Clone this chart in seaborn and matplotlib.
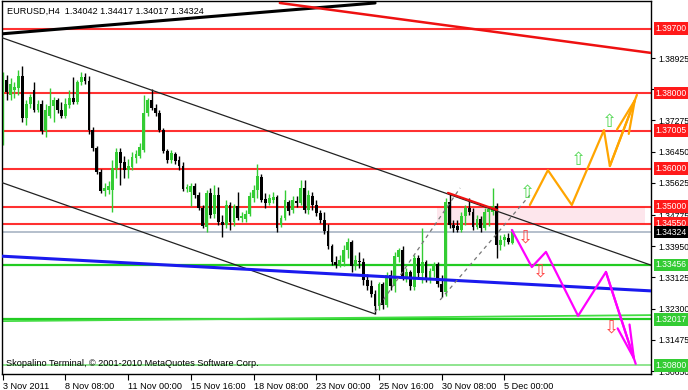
import matplotlib
matplotlib.use("Agg")
import matplotlib.pyplot as plt
import matplotlib.transforms as mtransforms
import numpy as np
import pandas as pd
import seaborn as sns

# ---------------- data (EURUSD H4) ----------------
opens = [1.3676, 1.3834, 1.3795, 1.3808, 1.3813, 1.3845, 1.3734, 1.3771, 1.3808, 1.3755,
         1.3771, 1.3700, 1.3739, 1.3766, 1.3782, 1.3755, 1.3739, 1.3768, 1.3787, 1.3776,
         1.3829, 1.3842, 1.3832, 1.3702, 1.3655, 1.3591, 1.3541, 1.3544, 1.3544, 1.3602,
         1.3644, 1.3618, 1.3596, 1.3604, 1.3628, 1.3633, 1.3649, 1.3747, 1.3782, 1.3760,
         1.3747, 1.3702, 1.3647, 1.3623, 1.3639, 1.3623, 1.3607, 1.3546, 1.3538, 1.3554,
         1.3530, 1.3496, 1.3446, 1.3536, 1.3480, 1.3530, 1.3459, 1.3451, 1.3504, 1.3459,
         1.3501, 1.3470, 1.3467, 1.3480, 1.3523, 1.3544, 1.3578, 1.3520, 1.3509, 1.3517,
         1.3525, 1.3451, 1.3470, 1.3512, 1.3491, 1.3515, 1.3509, 1.3549, 1.3491, 1.3528,
         1.3504, 1.3483, 1.3464, 1.3435, 1.3396, 1.3353, 1.3348, 1.3353, 1.3385, 1.3406,
         1.3343, 1.3356, 1.3353, 1.3306, 1.3290, 1.3269, 1.3237, 1.3295, 1.3240, 1.3319,
         1.3290, 1.3367, 1.3385, 1.3314, 1.3327, 1.3287, 1.3364, 1.3324, 1.3353, 1.3308,
         1.3330, 1.3348, 1.3295, 1.3274, 1.3512, 1.3451, 1.3448, 1.3438, 1.3475, 1.3496,
         1.3485, 1.3446, 1.3467, 1.3443, 1.3485, 1.3485, 1.3501, 1.3398, 1.3411, 1.3417,
         1.34042]
highs = [1.3855, 1.3848, 1.3840, 1.3829, 1.3861, 1.3871, 1.3782, 1.3797, 1.3829, 1.3782,
         1.3782, 1.3771, 1.3813, 1.3789, 1.3787, 1.3776, 1.3787, 1.3808, 1.3842, 1.3834,
         1.3855, 1.3853, 1.3845, 1.3710, 1.3660, 1.3599, 1.3562, 1.3567, 1.3623, 1.3655,
         1.3655, 1.3633, 1.3626, 1.3644, 1.3649, 1.3668, 1.3795, 1.3787, 1.3811, 1.3771,
         1.3755, 1.3707, 1.3652, 1.3649, 1.3644, 1.3633, 1.3618, 1.3560, 1.3562, 1.3562,
         1.3538, 1.3504, 1.3544, 1.3549, 1.3557, 1.3552, 1.3478, 1.3517, 1.3512, 1.3507,
         1.3538, 1.3485, 1.3491, 1.3538, 1.3557, 1.3612, 1.3586, 1.3536, 1.3533, 1.3538,
         1.3530, 1.3478, 1.3544, 1.3517, 1.3528, 1.3528, 1.3570, 1.3570, 1.3544, 1.3538,
         1.3517, 1.3491, 1.3485, 1.3454, 1.3401, 1.3369, 1.3372, 1.3398, 1.3417, 1.3411,
         1.3372, 1.3380, 1.3364, 1.3322, 1.3306, 1.3279, 1.3300, 1.3300, 1.3327, 1.3332,
         1.3380, 1.3391, 1.3396, 1.3337, 1.3332, 1.3372, 1.3372, 1.3443, 1.3359, 1.3337,
         1.3353, 1.3353, 1.3319, 1.3523, 1.3536, 1.3464, 1.3464, 1.3485, 1.3504, 1.3523,
         1.3496, 1.3478, 1.3475, 1.3496, 1.3501, 1.3549, 1.3509, 1.3425, 1.3427, 1.3430,
         1.34417]
lows = [1.3663, 1.3782, 1.3782, 1.3787, 1.3795, 1.3723, 1.3715, 1.3760, 1.3750, 1.3750,
        1.3692, 1.3684, 1.3734, 1.3723, 1.3747, 1.3734, 1.3734, 1.3760, 1.3771, 1.3771,
        1.3821, 1.3824, 1.3692, 1.3647, 1.3586, 1.3536, 1.3528, 1.3533, 1.3485, 1.3575,
        1.3557, 1.3575, 1.3575, 1.3596, 1.3615, 1.3628, 1.3644, 1.3739, 1.3755, 1.3739,
        1.3697, 1.3641, 1.3615, 1.3615, 1.3612, 1.3596, 1.3541, 1.3538, 1.3501, 1.3523,
        1.3491, 1.3443, 1.3432, 1.3470, 1.3470, 1.3451, 1.3419, 1.3443, 1.3438, 1.3448,
        1.3464, 1.3459, 1.3459, 1.3475, 1.3512, 1.3523, 1.3512, 1.3496, 1.3504, 1.3509,
        1.3432, 1.3446, 1.3464, 1.3478, 1.3483, 1.3499, 1.3504, 1.3483, 1.3480, 1.3491,
        1.3475, 1.3456, 1.3427, 1.3388, 1.3345, 1.3337, 1.3340, 1.3343, 1.3364, 1.3327,
        1.3332, 1.3337, 1.3292, 1.3279, 1.3261, 1.3216, 1.3226, 1.3229, 1.3235, 1.3279,
        1.3274, 1.3353, 1.3306, 1.3300, 1.3279, 1.3279, 1.3314, 1.3298, 1.3300, 1.3298,
        1.3314, 1.3287, 1.3261, 1.3263, 1.3443, 1.3432, 1.3432, 1.3432, 1.3451, 1.3478,
        1.3438, 1.3440, 1.3432, 1.3438, 1.3448, 1.3478, 1.3364, 1.3385, 1.3396, 1.3401,
        1.34017]
closes = [1.3834, 1.3803, 1.3824, 1.3816, 1.3845, 1.3734, 1.3771, 1.3789, 1.3755, 1.3771,
          1.3700, 1.3755, 1.3766, 1.3782, 1.3755, 1.3739, 1.3771, 1.3787, 1.3776, 1.3829,
          1.3842, 1.3832, 1.3702, 1.3655, 1.3591, 1.3541, 1.3549, 1.3554, 1.3602, 1.3644,
          1.3615, 1.3596, 1.3607, 1.3631, 1.3639, 1.3658, 1.3747, 1.3782, 1.3760, 1.3747,
          1.3702, 1.3647, 1.3623, 1.3641, 1.3620, 1.3607, 1.3546, 1.3552, 1.3554, 1.3530,
          1.3496, 1.3448, 1.3536, 1.3478, 1.3530, 1.3459, 1.3451, 1.3504, 1.3459, 1.3501,
          1.3470, 1.3475, 1.3480, 1.3528, 1.3544, 1.3581, 1.3517, 1.3509, 1.3523, 1.3525,
          1.3443, 1.3470, 1.3517, 1.3488, 1.3517, 1.3509, 1.3549, 1.3491, 1.3530, 1.3504,
          1.3483, 1.3464, 1.3435, 1.3396, 1.3353, 1.3345, 1.3359, 1.3385, 1.3406, 1.3343,
          1.3359, 1.3353, 1.3306, 1.3290, 1.3269, 1.3237, 1.3295, 1.3240, 1.3319, 1.3290,
          1.3369, 1.3385, 1.3314, 1.3327, 1.3290, 1.3364, 1.3324, 1.3353, 1.3308, 1.3330,
          1.3348, 1.3295, 1.3274, 1.3512, 1.3451, 1.3443, 1.3438, 1.3475, 1.3496, 1.3485,
          1.3446, 1.3467, 1.3443, 1.3485, 1.3493, 1.3501, 1.3398, 1.3411, 1.3419, 1.3406,
          1.34324]

x_tick_bars = [0, 16, 32, 48, 64, 80, 96, 112, 128]
x_tick_labels = ["3 Nov 2011", "8 Nov 08:00", "11 Nov 00:00", "15 Nov 16:00",
                 "18 Nov 08:00", "23 Nov 00:00", "25 Nov 16:00", "30 Nov 08:00",
                 "5 Dec 00:00"]
y_tick_values = [1.38925, 1.38100, 1.37275, 1.36450, 1.35625, 1.34775,
                 1.33950, 1.33125, 1.32300, 1.31475, 1.30650]

red_levels = [1.39700, 1.38000, 1.37005, 1.36000, 1.35000, 1.34550]
green_levels = [1.33456, 1.32017, 1.30800]
bid_price = 1.34324
title_text = "EURUSD,H4  1.34042 1.34417 1.34017 1.34324"
footer_text = "Skopalino Terminal, \u00a9 2001-2010 MetaQuotes Software Corp."

# trend lines: (bar position, price)
top_thick_x, top_thick_y = [-0.7, 95.0], [1.3956, 1.4038]
red_slope_x, red_slope_y = [70.7, 165.4], [1.4038, 1.3906]
chan_up_x, chan_up_y = [-0.7, 165.4], [1.3948, 1.3345]
chan_lo_x, chan_lo_y = [-0.7, 95.0], [1.3565, 1.3216]
blue_x, blue_y = [-0.7, 165.4], [1.3369, 1.3277]
green_slope_x, green_slope_y = [-0.7, 165.4], [1.3197, 1.3213]
red_seg_x, red_seg_y = [113.6, 126.1], [1.3536, 1.3491]
dash_a_x, dash_a_y = [95.0, 116.7], [1.3221, 1.3549]
dash_b_x, dash_b_y = [111.6, 134.5], [1.3253, 1.3530]
band_x, band_y = [110.8, 163.9], [1.34550, 1.35000]

orange_x = [134.5, 139.1, 145.2, 153.4, 154.9, 161.8]
orange_y = [1.3504, 1.3596, 1.3504, 1.3702, 1.3607, 1.3795]
magenta_x = [129.9, 135.0, 138.6, 146.8, 153.9, 161.5]
magenta_y = [1.3438, 1.3340, 1.3380, 1.3211, 1.3327, 1.3084]

up_arrow_x = [133.8, 146.8, 154.7]
up_arrow_y = [1.3536, 1.3623, 1.3723]
down_arrow_x = [133.3, 137.3, 155.4]
down_arrow_y = [1.3419, 1.3329, 1.3181]

# ---------------- figure ----------------
sns.set_theme(style="white")
plt.rcParams['font.family'] = ['Liberation Sans', 'DejaVu Sans']
FSY = 6.2
FSX = 6.6

W, H = 688, 390
fig = plt.figure(figsize=(W / 100, H / 100), dpi=100)
fig.patch.set_facecolor("white")
ax = fig.add_axes([2 / W, 16 / H, 649 / W, 373 / H])
ax.set_facecolor("white")

df = pd.DataFrame({"o": opens, "h": highs, "l": lows, "c": closes})
df["i"] = np.arange(len(df))
df["bull"] = df["c"] >= df["o"]

GREEN = "#33cc33"

# pink zone
ax.fill_between(band_x, band_y[0], band_y[1], color="#fde6ec", zorder=0.5, lw=0)

# horizontal levels
for lv in red_levels:
    ax.axhline(lv, color="#ff1a1a", lw=1.5, alpha=0.9, zorder=1)
ax.axhline(green_levels[0], color="#22cc22", lw=1.6, zorder=1)
ax.axhline(green_levels[1], color="#22cc22", lw=1.6, zorder=1)
ax.axhline(green_levels[2], color="#8fe58f", lw=1.4, zorder=1)
ax.axhline(bid_price, color="#a8b4c4", lw=1.2, zorder=1)

# candles
for _, r in df.iterrows():
    col = GREEN if r["bull"] else "black"
    ax.vlines(r["i"], r["l"], r["h"], color=col, lw=1.0, zorder=2)
bot = np.minimum(df["o"], df["c"])
hgt = np.maximum(np.abs(df["c"] - df["o"]), 0.00012)
ax.bar(df["i"], hgt, bottom=bot, width=0.72,
       color=[GREEN if b else "black" for b in df["bull"]], lw=0, zorder=2.1)

# trend lines
sns.lineplot(x=top_thick_x, y=top_thick_y, ax=ax, color="black", lw=2.2, zorder=3)
sns.lineplot(x=red_slope_x, y=red_slope_y, ax=ax, color="#ee1111", lw=1.8, zorder=3)
sns.lineplot(x=chan_up_x, y=chan_up_y, ax=ax, color="#222222", lw=0.9, zorder=3)
sns.lineplot(x=chan_lo_x, y=chan_lo_y, ax=ax, color="#222222", lw=0.9, zorder=3)
sns.lineplot(x=blue_x, y=blue_y, ax=ax, color="#1a1aee", lw=2.2, zorder=3)
sns.lineplot(x=green_slope_x, y=green_slope_y, ax=ax, color="#44dd44", lw=1.3, zorder=1)
sns.lineplot(x=red_seg_x, y=red_seg_y, ax=ax, color="#ee1111", lw=1.6, zorder=3.1)
ax.plot(dash_a_x, dash_a_y, color="#777777", lw=0.9, ls=(0, (3, 3)), zorder=3)
ax.plot(dash_b_x, dash_b_y, color="#777777", lw=0.9, ls=(0, (3, 3)), zorder=3)

# projections
sns.lineplot(x=orange_x, y=orange_y, ax=ax, sort=False, color="#ffa500", lw=1.6, zorder=4)
sns.lineplot(x=magenta_x, y=magenta_y, ax=ax, sort=False, color="#ff00ff", lw=1.6, zorder=4)
for xs, ys, col in [(orange_x, orange_y, "#ffa500"), (magenta_x, magenta_y, "#ff00ff")]:
    ax.annotate("", xy=(xs[-1], ys[-1]), xytext=(xs[-2], ys[-2]),
                arrowprops=dict(arrowstyle="->,head_length=2.4,head_width=0.45",
                                color=col, lw=1.6, shrinkA=0, shrinkB=0,
                                mutation_scale=10), zorder=4)

for x, y in zip(up_arrow_x, up_arrow_y):
    ax.text(x, y, "\u21e7", color="#55d855", fontsize=13, ha="center", va="center",
            family="DejaVu Sans", zorder=5)
for x, y in zip(down_arrow_x, down_arrow_y):
    ax.text(x, y, "\u21e9", color="#ff4444", fontsize=13, ha="center", va="center",
            family="DejaVu Sans", zorder=5)

# limits
ax.set_xlim(-0.18, 165.4)
ax.set_ylim(1.30573, 1.40432)

# axes styling
for s in ax.spines.values():
    s.set_color("black")
    s.set_linewidth(1.0)
ax.yaxis.tick_right()
ax.set_yticks(y_tick_values)
ax.set_yticklabels([f"{v:.5f}" for v in y_tick_values])
ax.tick_params(axis="y", direction="out", length=3, width=0.8, pad=2,
               labelsize=FSY, colors="black", right=True, left=False)
ax.set_xticks(x_tick_bars)
ax.set_xticklabels(x_tick_labels)
ax.tick_params(axis="x", direction="out", length=4, width=0.8, pad=1.5,
               labelsize=FSX, colors="black", bottom=True)
for lab in ax.get_xticklabels():
    lab.set_ha("left")
ax.set_xlabel("")
ax.set_ylabel("")
ax.grid(False)

# boxed price labels on the right
trans = mtransforms.blended_transform_factory(ax.transAxes, ax.transData)
offset = mtransforms.ScaledTranslation(3.2 / 72, 0, fig.dpi_scale_trans)
box_specs = [(lv, "#ff1a1a") for lv in red_levels] + [(bid_price, "black")] + \
            [(lv, "#33cc33") for lv in green_levels]
for lv, fc in box_specs:
    ax.text(1.0, lv, f"{lv:.5f}", transform=trans + offset, ha="left", va="center",
            fontsize=FSY, color="white", clip_on=False, zorder=10,
            bbox=dict(boxstyle="square,pad=0.2", fc=fc, ec="none"))

ax.text(5 / 649, 1 - 10 / 373, title_text, transform=ax.transAxes, fontsize=FSX,
        color="black", ha="left", va="center", zorder=10)
ax.text(4 / 649, 10 / 373, footer_text, transform=ax.transAxes, fontsize=FSX,
        color="black", ha="left", va="center", zorder=10)

fig.savefig("out.png", dpi=100, facecolor="white")
